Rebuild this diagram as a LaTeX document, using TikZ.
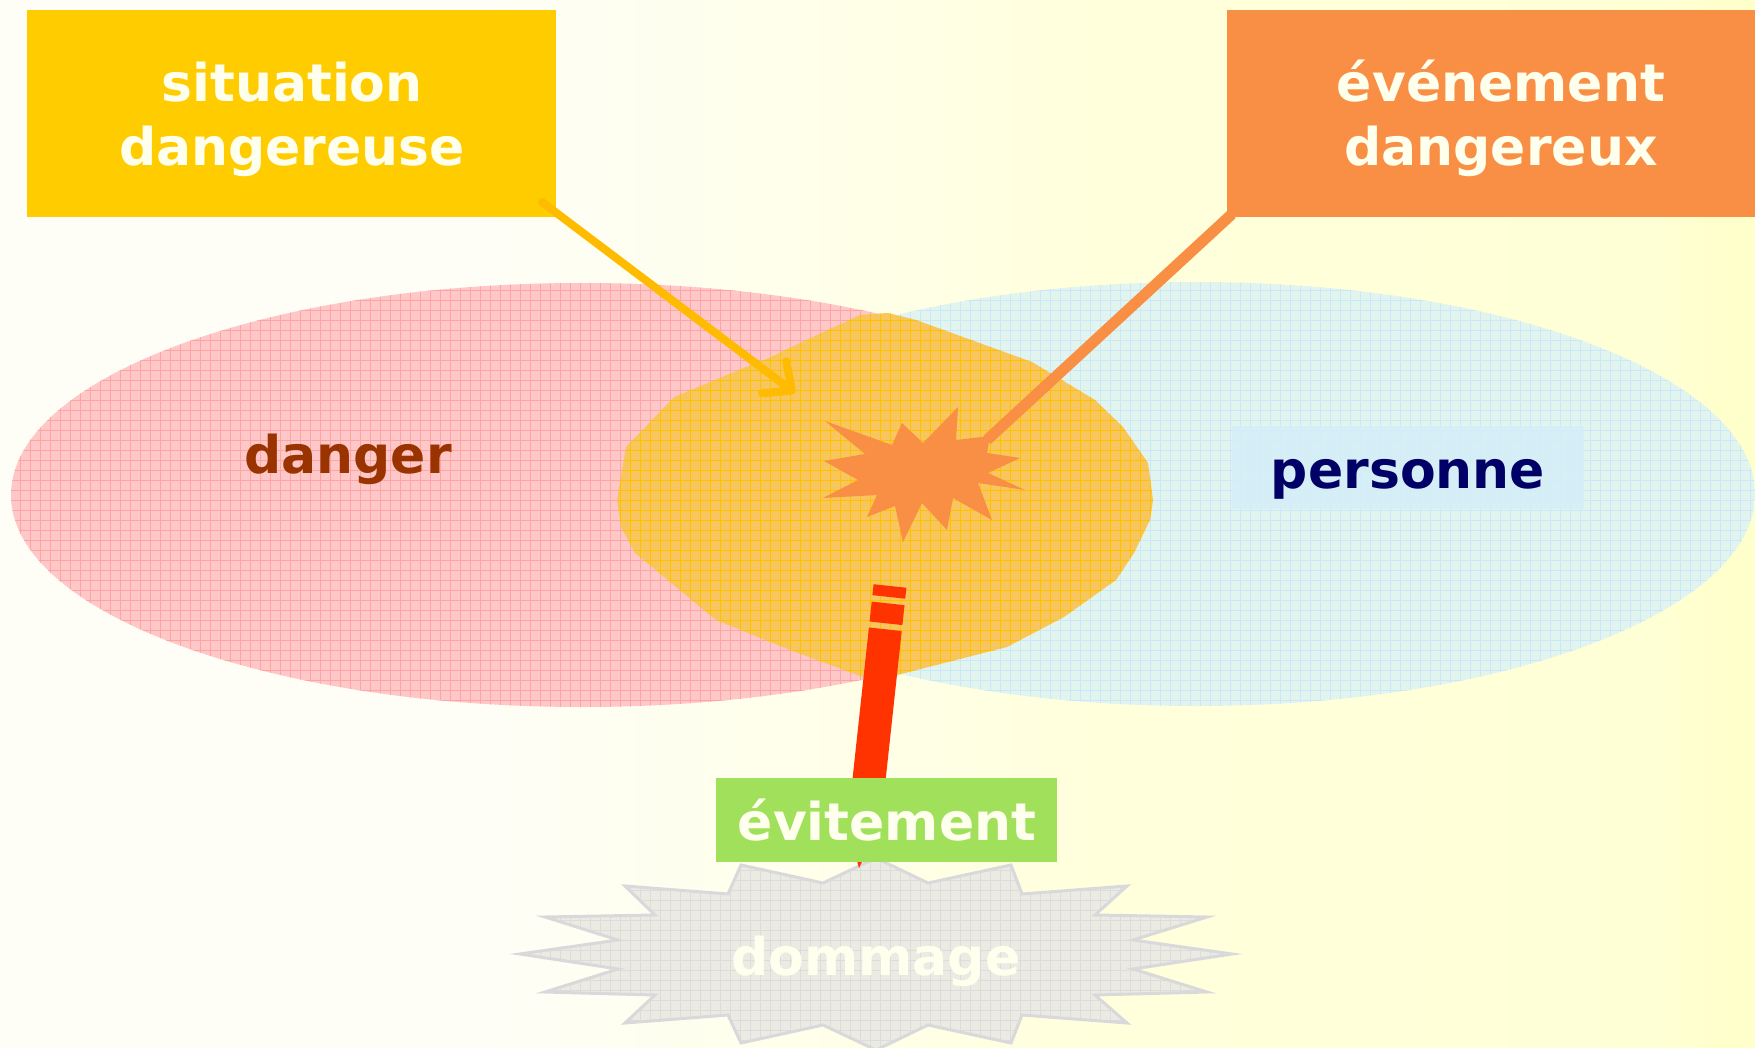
\documentclass[tikz,border=0pt]{standalone}
\usepackage{fontspec}
\setmainfont{DejaVu Sans}
\usetikzlibrary{arrows.meta}
\definecolor{bgA}{HTML}{FEFEF6}
\definecolor{bgB}{HTML}{FFFFE6}
\definecolor{bgC}{HTML}{FFFFDC}
\definecolor{bgD}{HTML}{FFFFD6}
\definecolor{bgE}{HTML}{FFFFCC}
\definecolor{sitcol}{HTML}{FFCC00}
\definecolor{evtcol}{HTML}{F88F45}
\definecolor{arrowyel}{HTML}{FFBB00}
\definecolor{pinkfill}{HTML}{FFC8C8}
\definecolor{pinkline}{HTML}{FFA3A3}
\definecolor{bluefill}{HTML}{E2F4EE}
\definecolor{blueline}{HTML}{CBE7FA}
\definecolor{blobfill}{HTML}{F7C65E}
\definecolor{blobline}{HTML}{FFC000}
\definecolor{redbar}{HTML}{FF3300}
\definecolor{greencol}{HTML}{A0E05A}
\definecolor{grayfill}{HTML}{EBEBE3}
\definecolor{grayline}{HTML}{DCDCDA}
\definecolor{grayedge}{HTML}{D9D9DC}
\definecolor{cream}{HTML}{FFFFEE}
\definecolor{dangercol}{HTML}{993300}
\definecolor{personcol}{HTML}{000066}
\definecolor{personbg}{HTML}{D5EEF7}
\pgfdeclarehorizontalshading{bgshade}{100bp}{color(0bp)=(bgA); color(39bp)=(bgA); color(51bp)=(bgB); color(56bp)=(bgC); color(72bp)=(bgD); color(74bp)=(bgE); color(100bp)=(bgE)}
\begin{document}
\begin{tikzpicture}[x=1pt,y=-1pt,
  lab/.style={font=\fontsize{52}{64}\selectfont\bfseries, inner sep=0pt, anchor=base, align=center},
  boxshape/.style={rectangle, inner sep=0pt, draw=none},
  gridthin/.style={line width=0.8pt}]
\useasboundingbox (0,0) rectangle (1755,1048);
\shade[shading=bgshade] (0,0) rectangle (1755,1048);

% danger ellipse
\begin{scope}
  \clip (582,495) ellipse [x radius=571, y radius=212];
  \fill[pinkfill] (0,270) rectangle (1160,720);
  \draw[pinkline, gridthin, step=10pt] (0,270) grid (1160,720);
\end{scope}
% personne ellipse
\begin{scope}
  \clip (1196,494) ellipse [x radius=559, y radius=212];
  \fill[bluefill] (630,270) rectangle (1755,720);
  \draw[blueline, gridthin, step=10pt] (630,270) grid (1755,720);
\end{scope}
% overlap blob
\begin{scope}
  \path[clip] (617,500) -- (626,447) -- (674,397) -- (768,358) -- (860,315) -- (888,313) -- (916,320) -- (1032,362) -- (1095,400) -- (1123,427) -- (1148,463) -- (1153,500) -- (1150,520) -- (1134,553) -- (1116,580) -- (1064,617) -- (1007,647) -- (897,675) -- (863,677) -- (790,650) -- (716,620) -- (635,553) -- (621,527) -- cycle;
  \fill[blobfill] (600,300) rectangle (1160,690);
  \draw[blobline, gridthin, step=10pt] (600,300) grid (1160,690);
\end{scope}

% explosion star
\fill[evtcol] (825,421) -- (865,454) -- (824,461) -- (858,480) -- (823,498) -- (877,495) -- (867,517) -- (895,506) -- (903,542) -- (922,503) -- (947,530) -- (953,498) -- (992,520) -- (978,483) -- (1025,490) -- (988,473) -- (1020,458) -- (987,453) -- (990,436) -- (956,440) -- (958,407) -- (923,443) -- (902,423) -- (892,445) -- cycle;

% top boxes
\node[boxshape, fill=sitcol, minimum width=529pt, minimum height=207pt] (sit) at (291.5,113.5) {};
\node[boxshape, fill=evtcol, minimum width=530pt, minimum height=207pt] (evt) at (1492,113.5) {};
\node[lab, text=cream] (sittext) at (292,166) {situation\\dangereuse};
\node[lab, text=cream] (evttext) at (1501,166) {événement\\dangereux};

% connectors
\coordinate (sitfoot) at (542,202);
\coordinate (sittip) at (795,393);
\coordinate (evtfoot) at (1232,214);
\coordinate (starjoin) at (987,440);
\draw[evtcol, line width=11pt] (evtfoot) -- (starjoin);
\draw[arrowyel, line width=8pt, line cap=round, -{Straight Barb[length=22pt, width=40pt, round]}] (sitfoot) -- (sittip);

% labels in ellipses
\node[lab, text=dangercol] (danger) at (348,473) {danger};
\node[boxshape, fill=personbg, fill opacity=0.85, minimum width=352pt, minimum height=83pt] (personbox) at (1408,467.5) {};
\node[lab, text=personcol] (personne) at (1408,488) {personne};

% damage star
\begin{scope}
  \path[clip] (625,886) -- (728,894) -- (741,865) -- (823,883) -- (876,858) -- (928,883) -- (1011,865) -- (1022,894) -- (1127,886) -- (1095,915) -- (1207,917) -- (1133,940) -- (1232,954) -- (1133,969) -- (1207,992) -- (1095,995) -- (1127,1023) -- (1022,1015) -- (1011,1043) -- (928,1025) -- (876,1050) -- (823,1025) -- (741,1043) -- (728,1015) -- (625,1023) -- (655,995) -- (545,992) -- (618,969) -- (520,954) -- (618,940) -- (545,917) -- (655,915) -- cycle;
  \fill[grayfill] (500,850) rectangle (1250,1060);
  \draw[grayline, gridthin, step=10pt] (500,850) grid (1250,1060);
\end{scope}
\draw[grayedge, line width=3pt, line join=miter] (625,886) -- (728,894) -- (741,865) -- (823,883) -- (876,858) -- (928,883) -- (1011,865) -- (1022,894) -- (1127,886) -- (1095,915) -- (1207,917) -- (1133,940) -- (1232,954) -- (1133,969) -- (1207,992) -- (1095,995) -- (1127,1023) -- (1022,1015) -- (1011,1043) -- (928,1025) -- (876,1050) -- (823,1025) -- (741,1043) -- (728,1015) -- (625,1023) -- (655,995) -- (545,992) -- (618,969) -- (520,954) -- (618,940) -- (545,917) -- (655,915) -- cycle;
\node[lab, text=cream] (dommage) at (876,975) {dommage};

% avoidance bar
\coordinate (bartop) at (890,586);
\coordinate (barend) at (864,826);
\coordinate (bartip) at (859,868);
\draw[redbar, line width=33pt, dash pattern=on 11pt off 6.5pt on 20pt off 6pt on 400pt] (bartop) -- (barend);
\fill[redbar] ([xshift=-16.5pt,yshift=-2pt]barend) -- ([xshift=16.5pt,yshift=2pt]barend) -- (bartip) -- cycle;

% avoidance box
\node[boxshape, fill=greencol, minimum width=341pt, minimum height=84pt] (evit) at (886.5,820) {};
\node[lab, text=cream] (evittext) at (887,840) {évitement};
\end{tikzpicture}
\end{document}
